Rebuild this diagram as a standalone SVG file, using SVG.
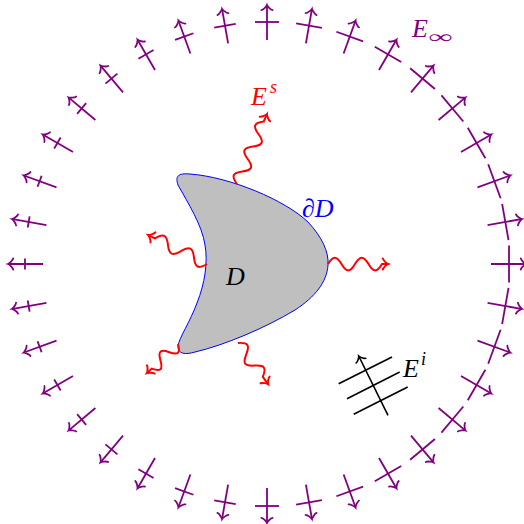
<svg xmlns="http://www.w3.org/2000/svg" width="524" height="524" viewBox="0 0 524 524">
<defs>
<style>
.ring line{stroke:#800080;stroke-width:1.8;fill:none;stroke-linecap:butt}
.ring .a{marker-end:url(#mp)}
.wave{fill:none;stroke:#FF0000;stroke-width:2;marker-end:url(#mr)}
.blk{stroke:#000;stroke-width:1.6;fill:none}
.lbl{font-family:"Liberation Serif","DejaVu Serif",serif;font-style:italic;font-size:26px}
.sup{font-family:"Liberation Serif","DejaVu Serif",serif;font-style:italic;font-size:18px}
</style>
<marker id="mp" markerUnits="userSpaceOnUse" viewBox="-6 -7 9 14" markerWidth="9" markerHeight="14" refX="0" refY="0" orient="auto" overflow="visible"><path d="M-4.2,-5.6 C-3.85,-3.5 0,-0.35 1,0 C0,0.35 -3.85,3.5 -4.2,5.6" fill="none" stroke="#800080" stroke-width="1.8" stroke-linecap="round"/></marker>
<marker id="mr" markerUnits="userSpaceOnUse" viewBox="-6 -7 9 14" markerWidth="9" markerHeight="14" refX="0" refY="0" orient="auto" overflow="visible"><path d="M-4.2,-5.6 C-3.85,-3.5 0,-0.35 1,0 C0,0.35 -3.85,3.5 -4.2,5.6" fill="none" stroke="#FF0000" stroke-width="2" stroke-linecap="round"/></marker>
<marker id="mk" markerUnits="userSpaceOnUse" viewBox="-6 -7 9 14" markerWidth="9" markerHeight="14" refX="0" refY="0" orient="auto" overflow="visible"><path d="M-4,-5.3 C-3.7,-3.3 0,-0.33 1,0 C0,0.33 -3.7,3.3 -4,5.3" fill="none" stroke="#000" stroke-width="1.6" stroke-linecap="round"/></marker>
</defs>
<rect width="524" height="524" fill="#fff"/>

<g id="farfield" class="ring">
<g transform="rotate(0 267 264)"><line class="a" x1="491" y1="264" x2="525" y2="264"/><line x1="509" y1="245.5" x2="509" y2="282.5"/></g>
<g transform="rotate(-10 267 264)"><line class="a" x1="491" y1="264" x2="525" y2="264"/><line x1="509" y1="245.6" x2="509" y2="282.4"/></g>
<g transform="rotate(-20 267 264)"><line class="a" x1="491" y1="264" x2="525" y2="264"/><line x1="509" y1="245.9" x2="509" y2="282.1"/></g>
<g transform="rotate(-30 267 264)"><line class="a" x1="491" y1="264" x2="525" y2="264"/><line x1="509" y1="246.4" x2="509" y2="281.6"/></g>
<g transform="rotate(-40 267 264)"><line class="a" x1="491" y1="264" x2="525" y2="264"/><line x1="509" y1="247" x2="509" y2="281"/></g>
<g transform="rotate(-50 267 264)"><line class="a" x1="491" y1="264" x2="525" y2="264"/><line x1="509" y1="247.8" x2="509" y2="280.2"/></g>
<g transform="rotate(-60 267 264)"><line class="a" x1="491" y1="264" x2="525" y2="264"/><line x1="509" y1="248.75" x2="509" y2="279.25"/></g>
<g transform="rotate(-70 267 264)"><line class="a" x1="491" y1="264" x2="525" y2="264"/><line x1="509" y1="249.8" x2="509" y2="278.2"/></g>
<g transform="rotate(-80 267 264)"><line class="a" x1="491" y1="264" x2="525" y2="264"/><line x1="509" y1="250.9" x2="509" y2="277.1"/></g>
<g transform="rotate(-90 267 264)"><line class="a" x1="491" y1="264" x2="525" y2="264"/><line x1="509" y1="252" x2="509" y2="276"/></g>
<g transform="rotate(-100 267 264)"><line class="a" x1="491" y1="264" x2="525" y2="264"/><line x1="509" y1="253.1" x2="509" y2="274.9"/></g>
<g transform="rotate(-110 267 264)"><line class="a" x1="491" y1="264" x2="525" y2="264"/><line x1="509" y1="254.2" x2="509" y2="273.8"/></g>
<g transform="rotate(-120 267 264)"><line class="a" x1="491" y1="264" x2="525" y2="264"/><line x1="509" y1="255.25" x2="509" y2="272.75"/></g>
<g transform="rotate(-130 267 264)"><line class="a" x1="491" y1="264" x2="525" y2="264"/><line x1="509" y1="256.2" x2="509" y2="271.8"/></g>
<g transform="rotate(-140 267 264)"><line class="a" x1="491" y1="264" x2="525" y2="264"/><line x1="509" y1="257" x2="509" y2="271"/></g>
<g transform="rotate(-150 267 264)"><line class="a" x1="491" y1="264" x2="525" y2="264"/><line x1="509" y1="257.6" x2="509" y2="270.4"/></g>
<g transform="rotate(-160 267 264)"><line class="a" x1="491" y1="264" x2="525" y2="264"/><line x1="509" y1="258.1" x2="509" y2="269.9"/></g>
<g transform="rotate(-170 267 264)"><line class="a" x1="491" y1="264" x2="525" y2="264"/><line x1="509" y1="258.4" x2="509" y2="269.6"/></g>
<g transform="rotate(-180 267 264)"><line class="a" x1="491" y1="264" x2="525" y2="264"/><line x1="509" y1="258.5" x2="509" y2="269.5"/></g>
<g transform="rotate(-190 267 264)"><line class="a" x1="491" y1="264" x2="525" y2="264"/><line x1="509" y1="258.4" x2="509" y2="269.6"/></g>
<g transform="rotate(-200 267 264)"><line class="a" x1="491" y1="264" x2="525" y2="264"/><line x1="509" y1="258.1" x2="509" y2="269.9"/></g>
<g transform="rotate(-210 267 264)"><line class="a" x1="491" y1="264" x2="525" y2="264"/><line x1="509" y1="257.6" x2="509" y2="270.4"/></g>
<g transform="rotate(-220 267 264)"><line class="a" x1="491" y1="264" x2="525" y2="264"/><line x1="509" y1="257" x2="509" y2="271"/></g>
<g transform="rotate(-230 267 264)"><line class="a" x1="491" y1="264" x2="525" y2="264"/><line x1="509" y1="256.2" x2="509" y2="271.8"/></g>
<g transform="rotate(-240 267 264)"><line class="a" x1="491" y1="264" x2="525" y2="264"/><line x1="509" y1="255.25" x2="509" y2="272.75"/></g>
<g transform="rotate(-250 267 264)"><line class="a" x1="491" y1="264" x2="525" y2="264"/><line x1="509" y1="254.2" x2="509" y2="273.8"/></g>
<g transform="rotate(-260 267 264)"><line class="a" x1="491" y1="264" x2="525" y2="264"/><line x1="509" y1="253.1" x2="509" y2="274.9"/></g>
<g transform="rotate(-270 267 264)"><line class="a" x1="491" y1="264" x2="525" y2="264"/><line x1="509" y1="252" x2="509" y2="276"/></g>
<g transform="rotate(-280 267 264)"><line class="a" x1="491" y1="264" x2="525" y2="264"/><line x1="509" y1="250.9" x2="509" y2="277.1"/></g>
<g transform="rotate(-290 267 264)"><line class="a" x1="491" y1="264" x2="525" y2="264"/><line x1="509" y1="249.8" x2="509" y2="278.2"/></g>
<g transform="rotate(-300 267 264)"><line class="a" x1="491" y1="264" x2="525" y2="264"/><line x1="509" y1="248.75" x2="509" y2="279.25"/></g>
<g transform="rotate(-310 267 264)"><line class="a" x1="491" y1="264" x2="525" y2="264"/><line x1="509" y1="247.8" x2="509" y2="280.2"/></g>
<g transform="rotate(-320 267 264)"><line class="a" x1="491" y1="264" x2="525" y2="264"/><line x1="509" y1="247" x2="509" y2="281"/></g>
<g transform="rotate(-330 267 264)"><line class="a" x1="491" y1="264" x2="525" y2="264"/><line x1="509" y1="246.4" x2="509" y2="281.6"/></g>
<g transform="rotate(-340 267 264)"><line class="a" x1="491" y1="264" x2="525" y2="264"/><line x1="509" y1="245.9" x2="509" y2="282.1"/></g>
<g transform="rotate(-350 267 264)"><line class="a" x1="491" y1="264" x2="525" y2="264"/><line x1="509" y1="245.6" x2="509" y2="282.4"/></g>
</g>

<g id="scatterer">
<path d="M178,185 C175,176 178,173 190,174 C230,177 285,200 308,222 C322,237 329,252 328,265 C327,282 315,297 295,310 C265,328 225,345 195,352 C185,355 178,354 178,346 C179,338 190,322 197,303 C205,283 208,262 205,245 C202,225 188,203 178,185 Z" fill="#BFBFBF" stroke="#0000FF" stroke-width="1"/>
</g>

<g id="scattered-waves">
<path class="wave" transform="translate(237,184) rotate(-66.8)" d="M0,0 c5,-8.5 8.6,-8.5 13.6,0 s8.6,8.5 13.6,0 s8.6,-8.5 13.6,0 s8.6,8.5 13.6,0 s8.6,-8.5 13.6,0 l7,0"/>
<path class="wave" transform="translate(328,264)" d="M0,0 c5,-8.5 8.5,-8.5 13.5,0 s8.5,8.5 13.5,0 s8.5,-8.5 13.5,0 s8.5,8.5 13.5,0 l5,0"/>
<path class="wave" transform="translate(207,264) rotate(-153.8)" d="M0,0 c5.4,-8.5 9.1,-8.5 14.5,0 s9.1,8.5 14.5,0 s9.1,-8.5 14.5,0 s9.1,8.5 14.5,0 l6.5,0"/>
<path class="wave" transform="translate(178,344) rotate(136.9)" d="M0,0 c4.4,-8.5 7.6,-8.5 12,0 s7.6,8.5 12,0 s7.6,-8.5 12,0 l5.5,0"/>
<path class="wave" transform="translate(238,343) rotate(53.8)" d="M0,0 c5.2,-8.5 8.8,-8.5 14,0 s8.8,8.5 14,0 s8.8,-8.5 14,0 l8,0"/>
</g>

<g id="incident">
<line class="blk" x1="338.7" y1="383.7" x2="392" y2="357"/>
<line class="blk" x1="347" y1="398.7" x2="399.7" y2="372"/>
<line class="blk" x1="353.7" y1="414.3" x2="407.7" y2="387"/>
<line class="blk" x1="388" y1="415.3" x2="359.2" y2="357" marker-end="url(#mk)"/>
</g>

<g id="labels">
<text class="lbl" x="226" y="285" fill="#000">D</text>
<text class="lbl" x="302" y="217" fill="#0000FF">∂D</text>
<text class="lbl" x="251" y="105" fill="#FF0000">E</text>
<text class="sup" x="270" y="93" fill="#FF0000">s</text>
<text class="lbl" x="412" y="37" fill="#800080">E</text>
<text class="sup" x="429" y="43" fill="#800080" font-size="20" textLength="24" lengthAdjust="spacingAndGlyphs">∞</text>
<text class="lbl" x="403" y="377" fill="#000">E</text>
<text class="sup" x="421" y="365" fill="#000">i</text>
</g>
</svg>
